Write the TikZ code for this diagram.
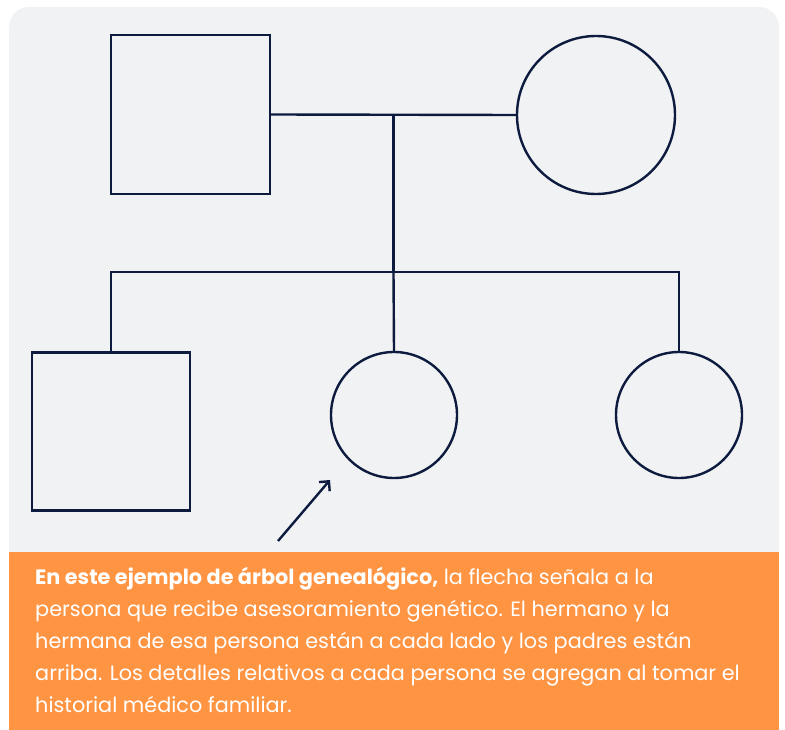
\documentclass[tikz,border=0pt]{standalone}
\usepackage{fontspec}
\setmainfont{Poppins}
\usepackage{xcolor}
\usetikzlibrary{arrows.meta,positioning,calc}
\definecolor{fondo}{HTML}{F1F2F4}
\definecolor{naranja}{HTML}{FF9443}
\definecolor{tinta}{HTML}{0D1B3E}
\tikzset{
    linea/.style={draw=tinta,line width=2.4pt},
    varon/.style={linea,rectangle,minimum size=#1,inner sep=0pt},
    mujer/.style={linea,circle,minimum size=#1,inner sep=0pt},
    flecha/.style={linea,-{Straight Barb[length=7pt,width=14pt]}},
    nota/.style={text=white,align=left,anchor=north west,inner sep=0pt,font=\fontsize{20.8}{32}\selectfont},
}

\begin{document}
\begin{tikzpicture}[x=1pt,y=-1pt]
        \useasboundingbox (0,0) rectangle (785,730);
        \fill[white] (0,0) rectangle (785,730);
        \fill[fondo,rounded corners=20pt] (9,7) rectangle (779,760);
        \fill[naranja] (9,552) rectangle (779,730);
        % padres
        \node[varon=159pt] (padre) at (190.5,114.5) {};
        \node[mujer=158pt] (madre) at (596,115) {};
        \draw[linea] (padre.east) -- (madre.west) coordinate[midway] (union);
        % hijos
        \node[varon=158pt] (hermano) at (111,431.5) {};
        \node[mujer=126pt] (paciente) at (394,415) {};
        \node[mujer=126pt] (hermana) at (679,415) {};
        \coordinate (rama) at (union |- 0,272);
        \draw[linea] (union) -- (rama);
        \draw[linea] (hermano.north) |- (rama) -| (hermana.north);
        \draw[linea] (rama) -- (paciente.north);
        % flecha
        \coordinate (cola) at (278,541);
        \coordinate (punta) at (330,480);
        \draw[flecha] (cola) -- (punta);
        \node[nota] (texto) at (35,567) {\textbf{En este ejemplo de árbol genealógico,} la flecha señala a la\\
            persona que recibe asesoramiento genético. El hermano y la\\
            hermana de esa persona están a cada lado y los padres están\\
            arriba. Los detalles relativos a cada persona se agregan al tomar el\\
            historial médico familiar.};
    \end{tikzpicture}
\end{document}
